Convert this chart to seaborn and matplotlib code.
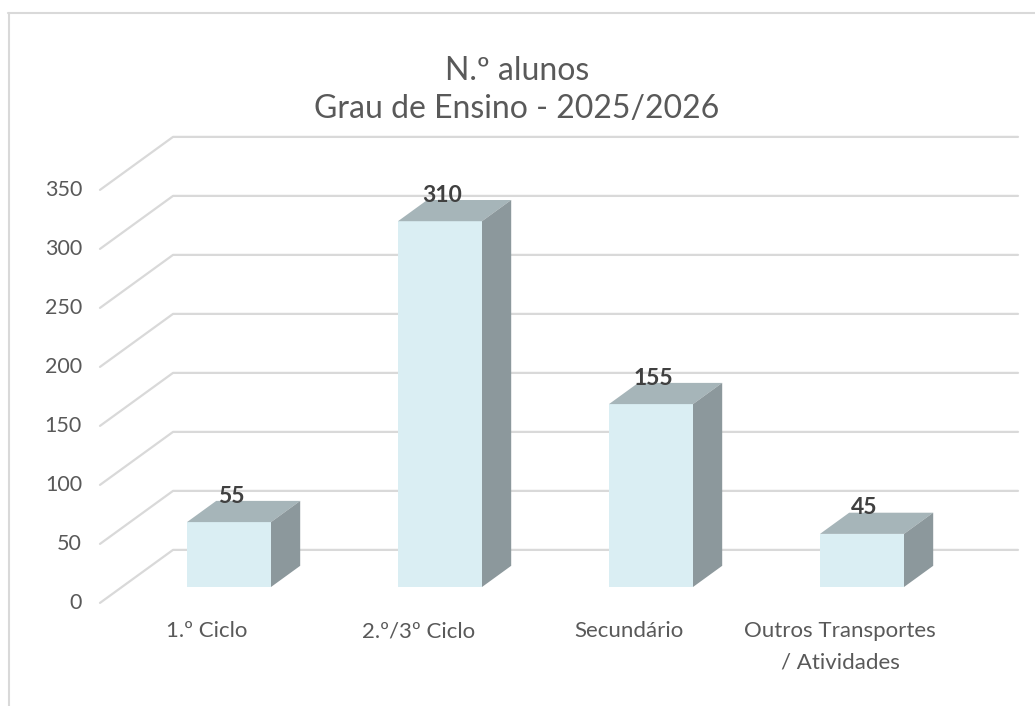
import matplotlib
matplotlib.use("Agg")
import matplotlib.pyplot as plt
from matplotlib.patches import Polygon
from matplotlib.lines import Line2D
import seaborn as sns

# ---- data ----
categories = ["1.º Ciclo", "2.º/3º Ciclo", "Secundário", "Outros Transportes\n/ Atividades"]
values = [55, 310, 155, 45]
y_ticks = [0, 50, 100, 150, 200, 250, 300, 350]
title_lines = ["N.º alunos", "Grau de Ensino - 2025/2026"]

# ---- style ----
sns.set_theme(style="white")
plt.rcParams["font.family"] = ["Lato", "DejaVu Sans"]

FRONT = "#DAEEF3"
TOP = "#A6B5B9"
SIDE = "#8C989C"
GRID = "#D9D9D9"
TXT = "#595959"
LBL = "#404040"

W, H = 1035, 706
fig = plt.figure(figsize=(W / 100, H / 100), dpi=100)
ax = fig.add_axes([0, 0, 1, 1])

# pixel mapping: category i -> px 229 + 211*i ; value v -> py 587 - 1.18*v
PX0, PXS = 229.0, 211.0
PY0, PYS = 587.0, 1.18
ax_xlim = (-PX0 / PXS, (W - PX0) / PXS)
ax_ylim = ((PY0 - H) / PYS, PY0 / PYS)

# depth geometry (data units)
DX = 73 / PXS
DY = 53 / PYS
BAR_D0, BAR_D1 = 0.3, 0.7
XL0 = (100 - PX0) / PXS      # left edge of floor at depth 0
XR1 = (1018 - PX0) / PXS     # right edge of back wall

sns.barplot(x=categories, y=values, color=FRONT, saturation=1, width=84 / PXS,
            ax=ax, linewidth=0, zorder=3)

# gridlines (side diagonal + back wall)
for v in y_ticks:
    yf = v - BAR_D0 * DY
    yb = v + (1 - BAR_D0) * DY
    ax.add_line(Line2D([XL0, XL0 + DX, XR1], [yf, yb, yb], color=GRID, lw=1.6, zorder=1))
    ax.text((82 - PX0) / PXS, yf, str(v), ha="right", va="center", fontsize=15.5, color=TXT)

# 3D faces
ox = (BAR_D1 - BAR_D0) * DX
oy = (BAR_D1 - BAR_D0) * DY
for p, v in zip(ax.patches, values):
    x0, w, h = p.get_x(), p.get_width(), p.get_height()
    ax.add_patch(Polygon([(x0, h), (x0 + w, h), (x0 + w + ox, h + oy), (x0 + ox, h + oy)],
                         closed=True, facecolor=TOP, edgecolor="none", zorder=4))
    ax.add_patch(Polygon([(x0 + w, 0), (x0 + w, h), (x0 + w + ox, h + oy), (x0 + w + ox, oy)],
                         closed=True, facecolor=SIDE, edgecolor="none", zorder=4))
    ax.text(x0 + w / 2 + 0.01, h + oy + 4, str(v), ha="center", va="center", fontsize=16.5,
            fontweight="bold", color=LBL, zorder=5)

# category labels on floor front
for i, c in enumerate(categories):
    ax.text(i - BAR_D0 * DX, (PY0 - 621) / PYS, c, ha="center", va="top", fontsize=16,
            color=TXT, linespacing=1.72)

ax.set_xlim(*ax_xlim)
ax.set_ylim(*ax_ylim)
ax.set_axis_off()

# title
fig.text(517 / W, 1 - 90 / H, "\n".join(title_lines), ha="center", va="center",
         fontsize=23, color=TXT, linespacing=1.32)

# chart border (top and left visible)
fig.add_artist(Line2D([8 / W, 1], [1 - 13 / H, 1 - 13 / H], transform=fig.transFigure,
                      color=GRID, lw=1.5))
fig.add_artist(Line2D([9 / W, 9 / W], [0, 1 - 13 / H], transform=fig.transFigure,
                      color=GRID, lw=1.5))

fig.savefig("out.png", dpi=100, facecolor="white")
